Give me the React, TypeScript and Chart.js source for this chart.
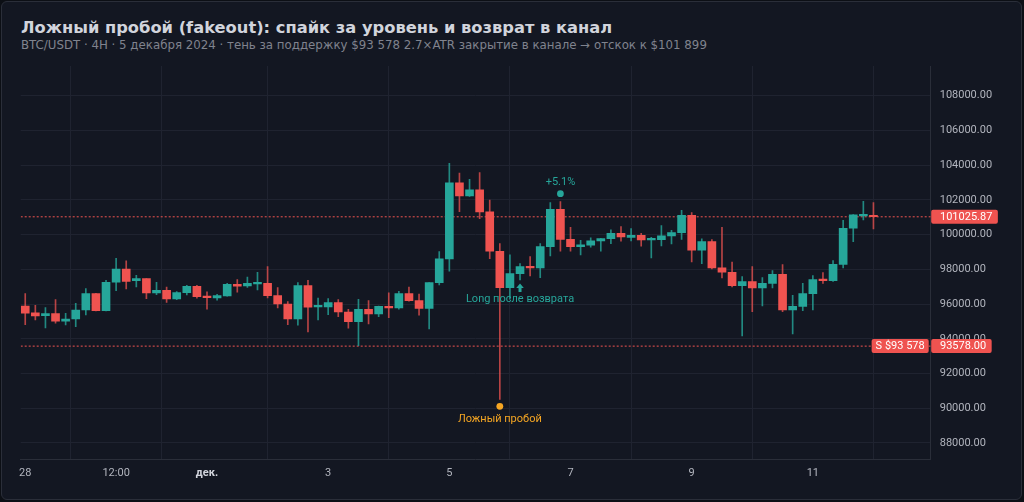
import React, { useEffect, useRef } from 'react'
import { Chart, registerables, ChartConfiguration, Plugin } from 'chart.js'

Chart.register(...registerables)

// 4H candles, 28 Nov 00:00 -> 12 Dec 00:00 (index = candle number)
const xTickIdx = [0, 9, 18, 30, 42, 54, 66, 78]
const xTickLabels = ['28', '12:00', 'дек.', '3', '5', '7', '9', '11']

const opens = [
  95890, 95490, 95335, 95450, 95010, 95140, 95660, 96600, 95620, 97255,
  98020, 97350, 97465, 96640, 96795, 96295, 96660, 97025, 96465, 96350,
  96465, 97140, 97045, 97160, 97195, 96485, 96005, 95140, 97060, 95835,
  95835, 96085, 95545, 94990, 95700, 95430, 95870, 95775, 96600, 96200,
  95755, 97235, 98600, 102975, 102225, 102575, 101305, 99040, 96950, 97755,
  98155, 98080, 99310, 101460, 99730, 99310, 99385, 99635, 99770, 100075,
  99845, 99960, 99695, 99710, 99925, 100115, 101115, 99100, 99595, 98080,
  97830, 97060, 97295, 96930, 97195, 97715, 95660, 95870, 96600, 97425,
  97350, 98290, 100365, 101075, 101115,
]
const highs = [
  96600, 95930, 95795, 96255, 95470, 96045, 96890, 96620, 97370, 98640,
  98485, 97660, 97470, 97255, 96985, 96715, 97080, 97080, 96700, 96565,
  97200, 97410, 97560, 97830, 98155, 96945, 96140, 97235, 97370, 96350,
  96315, 96255, 95700, 96275, 96200, 95880, 96640, 96735, 96985, 96580,
  97240, 99020, 104110, 103550, 103185, 103570, 101995, 99480, 98830, 98330,
  98735, 99480, 101845, 101899, 100420, 99675, 99810, 99790, 100270, 100460,
  100345, 100075, 99845, 100520, 100250, 101400, 101265, 99750, 99710, 100420,
  98425, 97580, 98155, 97525, 97925, 98270, 96505, 97195, 97640, 97810,
  98500, 100825, 101150, 101920, 101845,
]
const lows = [
  94815, 95085, 94625, 94895, 94800, 94700, 95375, 95600, 95600, 96775,
  96870, 96985, 96315, 96545, 96100, 96255, 96525, 96335, 95700, 96220,
  96450, 96680, 96965, 96815, 96350, 95775, 94815, 94780, 94395, 95085,
  95390, 95275, 94605, 93605, 94855, 95275, 95220, 95700, 96160, 95355,
  94565, 97100, 97890, 101325, 102200, 100920, 98620, 90515, 96275, 97390,
  97620, 97525, 98770, 99040, 99040, 98830, 99270, 99040, 99480, 99615,
  99635, 99330, 98655, 99345, 99460, 99730, 98425, 98330, 98020, 97505,
  96985, 94165, 95565, 95890, 96930, 95565, 94280, 95620, 95660, 97195,
  97310, 98080, 99595, 100845, 100325,
]
const closes = [
  95470, 95315, 95450, 95010, 95140, 95660, 96600, 95620, 97255, 98020,
  97310, 97465, 96640, 96795, 96295, 96660, 97025, 96430, 96370, 96485,
  97140, 97025, 97195, 97200, 96485, 96005, 95140, 97060, 95815, 95870,
  96085, 95545, 94990, 95700, 95430, 95870, 95775, 96600, 96200, 95755,
  97235, 98600, 102975, 102225, 102575, 101305, 99040, 96950, 97755, 98155,
  98080, 99310, 101460, 99730, 99310, 99405, 99635, 99770, 100075, 99865,
  99960, 99695, 99730, 99925, 100115, 101115, 99100, 99595, 98080, 97830,
  97060, 97295, 96930, 97195, 97715, 95660, 95870, 96600, 97410, 97350,
  98290, 100365, 101135, 101170, 101025.87,
]

const yTicks = [88000, 90000, 92000, 94000, 96000, 98000, 100000, 102000, 104000, 106000, 108000]
const lastPrice = 101025.87
const supportLevel = 93578
const fakeoutIdx = 47
const entryIdx = 49
const peakIdx = 53

const GREEN = '#26a69a'
const RED = '#ef5350'
const GREEN_WICK = 'rgba(38,166,154,0.8)'
const RED_WICK = 'rgba(239,83,80,0.75)'
const ORANGE = '#f5a623'
const FONT = 'Roboto, "DejaVu Sans", sans-serif'
const HEAD_FONT = '"DejaVu Sans", sans-serif'

const X_MIN = -0.45
const X_MAX = 89.67

const isUp = (i: number) => closes[i] >= opens[i]

const overlayPlugin: Plugin<'bar'> = {
  id: 'overlay',
  afterDatasetsDraw(chart) {
    const { ctx } = chart
    const x = chart.scales.x
    const y = chart.scales.y
    ctx.save()
    ctx.font = `11px ${FONT}`
    ctx.textAlign = 'center'
    ctx.textBaseline = 'middle'

    // fakeout marker under the spike
    const fx = x.getPixelForValue(fakeoutIdx)
    const fy = y.getPixelForValue(lows[fakeoutIdx]) + 7
    ctx.fillStyle = ORANGE
    ctx.beginPath()
    ctx.arc(fx, fy, 3.4, 0, Math.PI * 2)
    ctx.fill()
    ctx.fillText('Ложный пробой', fx, fy + 13)

    // bounce target
    const pct = ((highs[peakIdx] / closes[fakeoutIdx] - 1) * 100).toFixed(1)
    const px = x.getPixelForValue(peakIdx)
    const py = y.getPixelForValue(highs[peakIdx]) - 8
    ctx.fillStyle = GREEN
    ctx.beginPath()
    ctx.arc(px, py, 3.4, 0, Math.PI * 2)
    ctx.fill()
    ctx.fillText(`+${pct}%`, px, py - 11)

    // long entry arrow
    const ex = x.getPixelForValue(entryIdx)
    const ey = y.getPixelForValue(lows[entryIdx]) + 3.5
    ctx.beginPath()
    ctx.moveTo(ex, ey)
    ctx.lineTo(ex + 3.8, ey + 4.5)
    ctx.lineTo(ex + 1.5, ey + 4.5)
    ctx.lineTo(ex + 1.5, ey + 8.5)
    ctx.lineTo(ex - 1.5, ey + 8.5)
    ctx.lineTo(ex - 1.5, ey + 4.5)
    ctx.lineTo(ex - 3.8, ey + 4.5)
    ctx.closePath()
    ctx.fill()
    ctx.fillText('Long после возврата', ex, ey + 16)
    ctx.restore()
  },
  afterDraw(chart) {
    const { ctx, chartArea } = chart
    const y = chart.scales.y
    ctx.save()
    ctx.font = `11px ${FONT}`
    ctx.textBaseline = 'middle'
    ctx.textAlign = 'left'

    const tag = (text: string, left: number, cy: number, padL: number, padR: number) => {
      const w = ctx.measureText(text).width
      ctx.fillStyle = RED
      ctx.beginPath()
      ctx.roundRect(left, cy - 7, w + padL + padR, 14, 2)
      ctx.fill()
      ctx.fillStyle = '#ffffff'
      ctx.fillText(text, left + padL, cy + 0.5)
    }

    const lastY = y.getPixelForValue(lastPrice)
    const supY = y.getPixelForValue(supportLevel)
    tag(lastPrice.toFixed(2), chartArea.right + 0.5, lastY, 8.8, 5.5)
    tag(supportLevel.toFixed(2), chartArea.right + 0.5, supY, 8.8, 5.5)

    const sText = 'S $' + supportLevel.toLocaleString('ru-RU').replace(/\s/g, ' ')
    const sw = ctx.measureText(sText).width
    tag(sText, chartArea.right - 2 - sw - 8, supY, 4, 4)
    ctx.restore()
  },
}

const CandleChart: React.FC = () => {
  const canvasRef = useRef<HTMLCanvasElement | null>(null)
  const chartRef = useRef<Chart | null>(null)

  useEffect(() => {
    document.body.style.margin = '0'
    document.body.style.background = '#0c0f15'
    if (chartRef.current) chartRef.current.destroy()
    if (!canvasRef.current) return
    const ctx = canvasRef.current.getContext('2d')
    if (!ctx) return

    const idx = opens.map((_, i) => i)

    const config: ChartConfiguration<any> = {
      type: 'bar',
      data: {
        datasets: [
          {
            type: 'bar',
            data: idx.map((i) => ({ x: i, y: [opens[i], closes[i]] })),
            backgroundColor: idx.map((i) => (isUp(i) ? GREEN : RED)),
            borderWidth: 0,
            barThickness: 8,
            minBarLength: 1.5,
            grouped: false,
            order: 1,
          },
          {
            type: 'bar',
            data: idx.map((i) => ({ x: i, y: [lows[i], highs[i]] })),
            backgroundColor: idx.map((i) => (isUp(i) ? GREEN_WICK : RED_WICK)),
            borderWidth: 0,
            barThickness: 1,
            grouped: false,
            order: 2,
          },
          {
            type: 'line',
            data: [
              { x: X_MIN, y: lastPrice },
              { x: X_MAX, y: lastPrice },
            ],
            borderColor: RED,
            borderWidth: 1,
            borderDash: [2, 2],
            pointRadius: 0,
            order: 3,
          },
          {
            type: 'line',
            data: [
              { x: X_MIN, y: supportLevel },
              { x: X_MAX, y: supportLevel },
            ],
            borderColor: RED,
            borderWidth: 1,
            borderDash: [2, 2],
            pointRadius: 0,
            order: 3,
          },
        ],
      },
      options: {
        responsive: false,
        animation: false,
        events: [],
        devicePixelRatio: 1,
        layout: { padding: { left: 20.7, top: 66, right: 0, bottom: 0 } },
        scales: {
          x: {
            type: 'linear',
            min: X_MIN,
            max: X_MAX,
            offset: false,
            afterBuildTicks: (scale: any) => {
              scale.ticks = xTickIdx.map((v) => ({ value: v }))
            },
            afterFit: (scale: any) => {
              scale.height = 42.7
            },
            grid: { color: '#1f2330', drawTicks: false },
            border: { color: '#2a2e39' },
            ticks: {
              autoSkip: false,
              maxRotation: 0,
              padding: 7,
              callback: (v: number) => xTickLabels[xTickIdx.indexOf(v)] ?? '',
              color: (c: any) => (c.tick && c.tick.label === 'дек.' ? '#d1d4dc' : '#b2b5be'),
              font: (c: any) => ({
                family: FONT,
                size: 11,
                weight: c.tick && c.tick.label === 'дек.' ? 'bold' : 'normal',
              }),
            },
          },
          y: {
            type: 'linear',
            position: 'right',
            min: 87060,
            max: 109710,
            afterBuildTicks: (scale: any) => {
              scale.ticks = yTicks.map((v) => ({ value: v }))
            },
            afterFit: (scale: any) => {
              scale.width = 93.3
            },
            grid: { color: '#1f2330', drawTicks: false },
            border: { color: '#2a2e39' },
            ticks: {
              padding: 9,
              color: '#b2b5be',
              font: { family: FONT, size: 11 },
              callback: (v: number) => Number(v).toFixed(2),
            },
          },
        },
        plugins: {
          legend: { display: false },
          tooltip: { enabled: false },
        },
      },
      plugins: [overlayPlugin],
    }

    chartRef.current = new Chart(ctx, config)

    return () => {
      if (chartRef.current) {
        chartRef.current.destroy()
        chartRef.current = null
      }
    }
  }, [])

  return (
    <div style={{ position: 'fixed', left: 0, top: 0, width: 1024, height: 502, background: '#0c0f15' }}>
      <div
        style={{
          position: 'absolute',
          left: 1,
          top: 1,
          width: 1021,
          height: 499,
          boxSizing: 'border-box',
          background: '#131722',
          border: '1px solid #2a2e39',
          borderRadius: 6,
        }}
      />
      <div
        style={{
          position: 'absolute',
          left: 21,
          top: 17.6,
          fontFamily: HEAD_FONT,
          fontWeight: 'bold',
          fontSize: 16.3,
          lineHeight: '19px',
          color: '#d1d4dc',
          whiteSpace: 'nowrap',
        }}
      >
        Ложный пробой (fakeout): спайк за уровень и возврат в канал
      </div>
      <div
        style={{
          position: 'absolute',
          left: 21,
          top: 38.2,
          fontFamily: HEAD_FONT,
          fontSize: 11.8,
          lineHeight: '14px',
          color: '#80838e',
          whiteSpace: 'nowrap',
        }}
      >
        BTC/USDT · 4H · 5 декабря 2024 · тень за поддержку $93 578 2.7×ATR закрытие в канале → отскок к $101 899
      </div>
      <canvas
        ref={canvasRef}
        width={1024}
        height={502}
        style={{ position: 'absolute', left: 0, top: 0, width: 1024, height: 502 }}
      />
    </div>
  )
}

export default function App() {
  return <CandleChart />
}
